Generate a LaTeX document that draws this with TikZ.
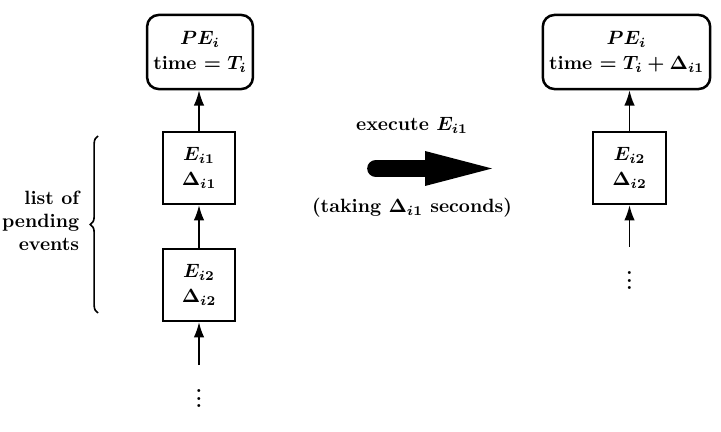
\documentclass[tikz,border=0pt]{standalone}
\usetikzlibrary{arrows.meta,decorations.pathreplacing}
\begin{document}
\begin{tikzpicture}[x=0.52pt,y=-0.52pt, font=\bfseries\boldmath, line width=0.9pt,
  evbox/.style={draw, minimum width=37.5pt, minimum height=37.5pt, align=center, inner sep=0pt, line width=1.05pt},
  pebox/.style={draw, rounded corners=6pt, minimum height=38.5pt, align=center, inner sep=0pt, line width=1.3pt},
  link/.style={-{Latex[length=8pt,width=5.5pt]}}]
\useasboundingbox (0,0) rectangle (721,432);
% left column
\node[pebox, minimum width=55pt] (pe1) at (200,52) {$PE_i$\\[1pt]time $= T_i$};
\node[evbox] (e11) at (199,168) {$E_{i1}$\\[1pt]$\Delta_{i1}$};
\node[evbox] (e12) at (199,285) {$E_{i2}$\\[1pt]$\Delta_{i2}$};
\coordinate (t1) at (199,365);
\node (d1) at (199,393) {$\vdots$};
\draw[link] (e11) -- (e11 |- pe1.south);
\draw[link] (e12) -- (e11);
\draw[link] (t1) -- (e12);
% brace and label
\coordinate (bb) at (98,313);
\coordinate (bt) at (98,136);
\draw[line width=0.85pt, decorate, decoration={brace, amplitude=4pt}] (bb) -- (bt);
\node[align=right, anchor=east, inner sep=0pt] (lbl) at (80,221) {list of\\pending\\events};
% middle
\node (ex) at (412,125) {execute $E_{i1}$};
\node (tk) at (412,208) {(taking $\Delta_{i1}$ seconds)};
\coordinate (sa) at (376,168.5);
\coordinate (sb) at (430,168.5);
\draw[line width=9.2pt, line cap=round] (sa) -- (sb);
\fill (425,151) -- (492,168.5) -- (425,186) -- cycle;
% right column
\node[pebox, minimum width=87pt] (pe2) at (626.5,52) {$PE_i$\\[1pt]time $= T_i + \Delta_{i1}$};
\node[evbox] (e22) at (629.5,168) {$E_{i2}$\\[1pt]$\Delta_{i2}$};
\coordinate (t2) at (629.5,247);
\node (d2) at (629.5,275) {$\vdots$};
\draw[link] (e22) -- (e22 |- pe2.south);
\draw[link] (t2) -- (e22);
\end{tikzpicture}
\end{document}
